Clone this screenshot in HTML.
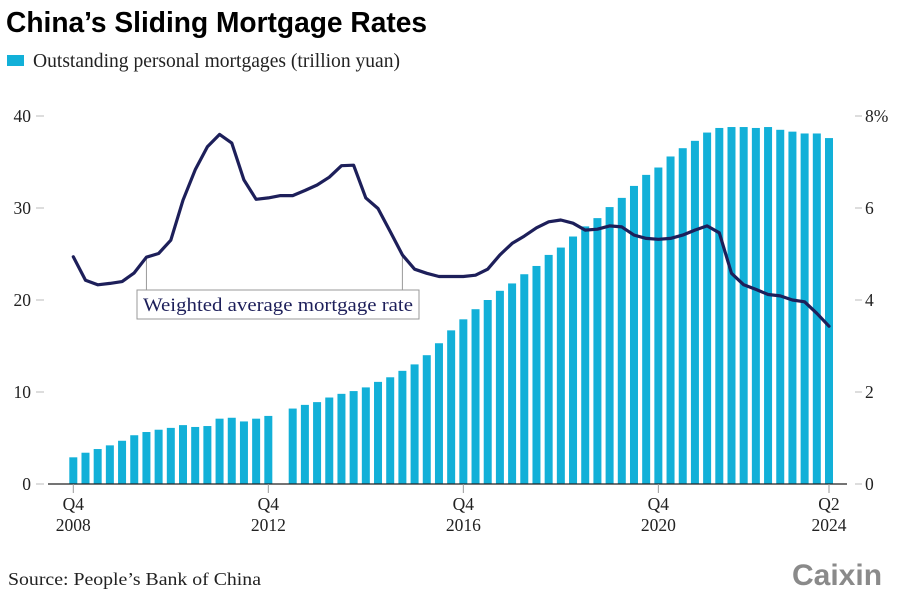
<!DOCTYPE html>
<html><head><meta charset="utf-8">
<style>
body{margin:0;background:#fff;width:900px;height:599px;overflow:hidden;}
svg{display:block;}
.ser{font-family:"Liberation Serif",serif;}
</style></head>
<body>
<svg id="chart" width="900" height="599" xmlns="http://www.w3.org/2000/svg">
<text x="6" y="32" font-family="Liberation Sans, sans-serif" font-weight="bold" font-size="29" fill="#000" textLength="421" lengthAdjust="spacingAndGlyphs">China’s Sliding Mortgage Rates</text>
<rect x="7" y="55" width="17" height="11" fill="#12b0d8"/>
<text x="33" y="67" class="ser" font-size="19.5" fill="#222" textLength="367" lengthAdjust="spacingAndGlyphs">Outstanding personal mortgages (trillion yuan)</text>
<g id="bars"></g>
<g id="axes"></g>
<g id="line"></g>
<rect x="137" y="290" width="282" height="29" fill="#fff" stroke="#999" stroke-width="1"/>
<text x="143" y="311" class="ser" font-size="19" fill="#1d1f5a" textLength="270" lengthAdjust="spacingAndGlyphs">Weighted average mortgage rate</text>
<text x="8" y="585" class="ser" font-size="18" fill="#222" textLength="253" lengthAdjust="spacingAndGlyphs">Source: People’s Bank of China</text>
<text x="792" y="585" font-family="Liberation Sans, sans-serif" font-weight="bold" font-size="30" fill="#8a8a8a">Caixin</text>
</svg>
<script>
// quarters from Q4 2008 (index 0) to Q2 2024 (index 62); null = missing
const mortgages = [2.9,3.4,3.8,4.2,4.7,5.3,5.65,5.9,6.1,6.4,6.2,6.3,7.1,7.2,6.8,7.1,7.4,
 null,8.2,8.6,8.9,9.4,9.8,10.1,10.5,11.1,11.6,12.3,13.0,14.0,15.3,16.7,
 17.9,19.0,20.0,21.0,21.8,22.8,23.7,24.9,25.7,26.9,28.0,28.9,30.1,31.1,32.4,33.6,
 34.4,35.6,36.5,37.3,38.2,38.7,38.8,38.8,38.7,38.8,38.5,38.3,38.1,38.1,37.6];
const rates = [4.94,4.43,4.33,4.36,4.40,4.59,4.93,5.01,5.30,6.17,6.83,7.33,7.60,7.41,6.61,6.19,
 6.22,6.27,6.27,6.38,6.50,6.67,6.92,6.93,6.22,5.99,5.49,4.98,4.67,4.58,4.51,4.51,
 4.51,4.54,4.67,4.98,5.23,5.39,5.57,5.70,5.74,5.67,5.52,5.54,5.61,5.59,5.41,5.34,
 5.32,5.34,5.41,5.52,5.61,5.46,4.58,4.33,4.23,4.12,4.09,4.00,3.96,3.71,3.43];
const leftTicks = [0,10,20,30,40];
const rightTicks = ["0","2","4","6","8%"];
const xTickIdx = [0,16,32,48,62];
const xTickQ = ["Q4","Q4","Q4","Q4","Q2"];
const xTickY = ["2008","2012","2016","2020","2024"];

const NS="http://www.w3.org/2000/svg";
const X0=73.3, X1=829, N=62, Y0=484, Ytop=116;
function x(i){return X0+(X1-X0)*i/N;}
function yL(v){return Y0-(Y0-Ytop)*v/40;}
function yR(v){return Y0-(Y0-Ytop)*v/8;}
function mk(tag,attrs,parent){const e=document.createElementNS(NS,tag);for(const k in attrs)e.setAttribute(k,attrs[k]);parent.appendChild(e);return e;}
const gB=document.getElementById('bars'),gA=document.getElementById('axes'),gL=document.getElementById('line');
mortgages.forEach((v,i)=>{
  if(v==null)return;
  const r=mk('rect',{x:x(i)-4,y:yL(v),width:8,height:Y0-yL(v),fill:'#12b0d8'},gB);
  
  
});
const base=mk('line',{x1:48,y1:Y0,x2:847,y2:Y0,stroke:'#222','stroke-width':1.3},gA);


leftTicks.forEach((v,i)=>{
  const t=mk('text',{x:31,y:yL(v)+6,'text-anchor':'end','font-size':17.5,fill:'#222','font-family':'Liberation Serif, serif'},gA);
  t.textContent=v;
  
  
  const m=mk('line',{x1:36,x2:44,y1:yL(v),y2:yL(v),stroke:'#bbb'},gA);
  
  
  const m2=mk('line',{x1:855,x2:862,y1:yR(i*2),y2:yR(i*2),stroke:'#bbb'},gA);
  
  
  const t2=mk('text',{x:865,y:yR(i*2)+6,'font-size':17.5,fill:'#222','font-family':'Liberation Serif, serif'},gA);
  t2.textContent=rightTicks[i];
  
  
});
xTickIdx.forEach((q,i)=>{
  const m=mk('line',{x1:x(q),x2:x(q),y1:Y0,y2:Y0+9,stroke:'#999'},gA);
  
  
  const t=mk('text',{x:x(q),y:510,'text-anchor':'middle','font-size':17.5,fill:'#222','font-family':'Liberation Serif, serif'},gA);
  t.textContent=xTickQ[i];
  
  
  const t2=mk('text',{x:x(q),y:531,'text-anchor':'middle','font-size':17.5,fill:'#222','font-family':'Liberation Serif, serif'},gA);
  t2.textContent=xTickY[i];
  
  
});
[6,27].forEach(i=>{
  const l=mk('line',{x1:x(i),x2:x(i),y1:yR(rates[i]),y2:290,stroke:'#999'},gL);
  
  
});
const pts=rates.map((r,i)=>x(i).toFixed(1)+','+yR(r).toFixed(1)).join(' ');
const pl=mk('polyline',{points:pts,fill:'none',stroke:'#1d1f5a','stroke-width':3.2,'stroke-linejoin':'round','stroke-linecap':'round'},gL);


</script>
</body></html>
